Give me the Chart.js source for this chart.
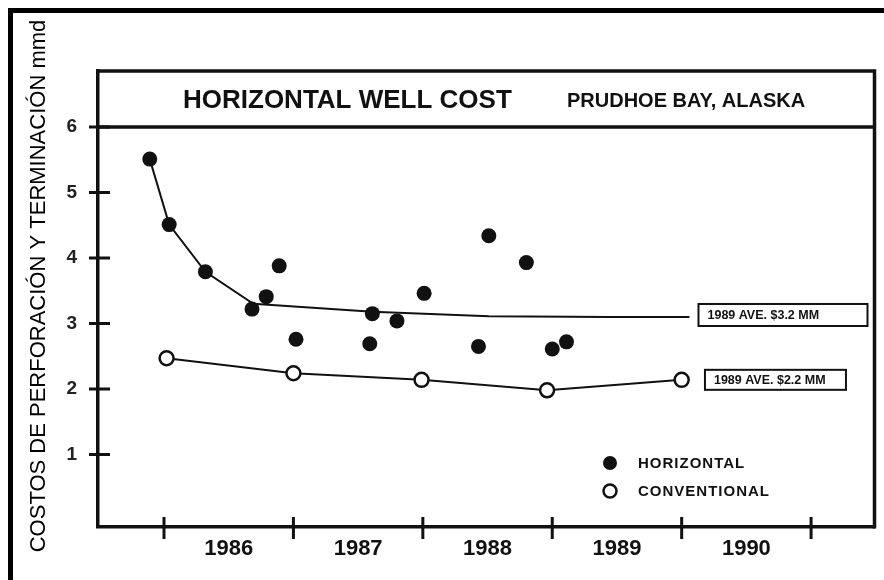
<!DOCTYPE html>
<html>
<head>
<meta charset="utf-8">
<script src="https://cdn.jsdelivr.net/npm/chart.js@4.4.1/dist/chart.umd.min.js"></script>
<style>
  html, body { margin: 0; padding: 0; background: #fff; }
  #frame { position: absolute; left: 8px; top: 8px; width: 876px; height: 572px;
           border-left: 5px solid #000; border-top: 5px solid #000; box-sizing: border-box; }
  #wrap { position: absolute; left: 0; top: 0; width: 884px; height: 580px; }
</style>
</head>
<body>
<div id="frame"></div>
<div id="wrap"><canvas id="c" width="884" height="580"></canvas></div>
<script>
// Year labels sit in the middle of each year; tick marks sit on year boundaries.
const yearLabels = ['1986', '1987', '1988', '1989', '1990'];
const yearTicks = [1986, 1987, 1988, 1989, 1990, 1991];
const costTicks = [1, 2, 3, 4, 5, 6];

// Horizontal wells: individual well costs (MM$)
const horizontalYears = [1985.89, 1986.04, 1986.32, 1986.68, 1986.79, 1986.89, 1987.02, 1987.61,
                         1987.59, 1987.80, 1988.01, 1988.43, 1988.51, 1988.80, 1989.00, 1989.11];
const horizontalCosts = [5.51, 4.51, 3.79, 3.22, 3.41, 3.88, 2.76, 3.15,
                         2.69, 3.04, 3.46, 2.65, 4.34, 3.93, 2.61, 2.72];

// Horizontal wells: cost trend curve
const trendYears = [1985.89, 1986.04, 1986.32, 1986.69, 1987.61, 1988.51, 1989.44, 1990.06];
const trendCosts = [5.51, 4.51, 3.79, 3.30, 3.18, 3.11, 3.10, 3.10];

// Conventional wells: yearly cost
const conventionalYears = [1986.02, 1987.00, 1987.99, 1988.96, 1990.00];
const conventionalCosts = [2.47, 2.24, 2.14, 1.98, 2.14];

const chartTitle = 'HORIZONTAL WELL COST';
const chartSubtitle = 'PRUDHOE BAY, ALASKA';
const yAxisTitle = 'COSTOS DE PERFORACIÓN Y TERMINACIÓN mmd';
const averageNotes = [
  { text: '1989 AVE. $3.2 MM', year: 1990.13, cost: 3.13, w: 169, h: 22 },
  { text: '1989 AVE. $2.2 MM', year: 1990.18, cost: 2.14, w: 141, h: 20 }
];

const toXY = (xs, ys) => xs.map((x, i) => ({ x, y: ys[i] }));
const INK = '#111';

const decorations = {
  id: 'decorations',
  afterDraw(chart) {
    const { ctx, chartArea: a, scales: { x, y } } = chart;
    ctx.save();
    ctx.strokeStyle = INK;
    ctx.lineCap = 'butt';

    // top and right sides of the frame, plus the title band rule at 6
    ctx.lineWidth = 3.5;
    ctx.beginPath();
    ctx.moveTo(a.left - 1.5, a.top);
    ctx.lineTo(a.right, a.top);
    ctx.lineTo(a.right, a.bottom + 1.5);
    const y6 = y.getPixelForValue(6);
    ctx.moveTo(a.left, y6);
    ctx.lineTo(a.right, y6);
    ctx.stroke();

    // tick marks crossing the axes
    ctx.lineWidth = 3;
    ctx.beginPath();
    costTicks.forEach(v => {
      const py = y.getPixelForValue(v);
      ctx.moveTo(a.left - 9, py);
      ctx.lineTo(a.left + 12, py);
    });
    yearTicks.forEach(v => {
      const px = x.getPixelForValue(v);
      ctx.moveTo(px, a.bottom - 10);
      ctx.lineTo(px, a.bottom + 12);
    });
    ctx.stroke();

    // title band text
    ctx.fillStyle = INK;
    ctx.textBaseline = 'middle';
    ctx.textAlign = 'left';
    const midBand = (a.top + y6) / 2 + 2;
    ctx.font = 'bold 26px "Liberation Sans", Arial, sans-serif';
    ctx.fillText(chartTitle, a.left + 85, midBand);
    ctx.font = 'bold 20px "Liberation Sans", Arial, sans-serif';
    ctx.fillText(chartSubtitle, a.left + 469, midBand);

    // boxed average notes
    ctx.font = 'bold 12.5px "Liberation Sans", Arial, sans-serif';
    ctx.lineWidth = 2;
    averageNotes.forEach(n => {
      const bx = x.getPixelForValue(n.year);
      const by = y.getPixelForValue(n.cost);
      ctx.strokeRect(bx, by - n.h / 2, n.w, n.h);
      ctx.fillText(n.text, bx + 9, by + 1);
    });

    // legend
    const lx = a.left + 512;
    const ly1 = a.top + 392;
    const ly2 = a.top + 420;
    ctx.beginPath();
    ctx.arc(lx, ly1, 7, 0, Math.PI * 2);
    ctx.fill();
    ctx.beginPath();
    ctx.arc(lx, ly2, 6.5, 0, Math.PI * 2);
    ctx.fillStyle = '#fff';
    ctx.fill();
    ctx.lineWidth = 2.5;
    ctx.stroke();
    ctx.fillStyle = INK;
    ctx.font = 'bold 15px "Liberation Sans", Arial, sans-serif';
    if ('letterSpacing' in ctx) ctx.letterSpacing = '1px';
    ctx.fillText(chart.data.datasets[0].label, lx + 28, ly1 + 1);
    ctx.fillText(chart.data.datasets[2].label, lx + 28, ly2 + 1);
    if ('letterSpacing' in ctx) ctx.letterSpacing = '0px';

    // rotated axis title
    ctx.translate(39, 286);
    ctx.rotate(-Math.PI / 2);
    ctx.textAlign = 'center';
    ctx.fillStyle = '#000';
    ctx.font = '22px "Liberation Sans", Arial, sans-serif';
    ctx.fillText(yAxisTitle, 0, 0);
    ctx.restore();
  }
};

new Chart(document.getElementById('c'), {
  data: {
    datasets: [
      {
        type: 'scatter',
        label: 'HORIZONTAL',
        data: toXY(horizontalYears, horizontalCosts),
        pointRadius: 7.5,
        pointBackgroundColor: INK,
        pointBorderColor: INK,
        pointBorderWidth: 0,
        showLine: false
      },
      {
        type: 'line',
        label: 'trend',
        data: toXY(trendYears, trendCosts),
        borderColor: INK,
        borderWidth: 2,
        pointRadius: 0,
        tension: 0,
        fill: false
      },
      {
        type: 'line',
        label: 'CONVENTIONAL',
        data: toXY(conventionalYears, conventionalCosts),
        borderColor: INK,
        borderWidth: 2,
        pointRadius: 7,
        pointBackgroundColor: '#fff',
        pointBorderColor: INK,
        pointBorderWidth: 2.5,
        tension: 0,
        fill: false
      }
    ]
  },
  options: {
    responsive: false,
    animation: false,
    devicePixelRatio: 1,
    layout: { padding: { left: 0, top: 71, right: 8, bottom: 0 } },
    plugins: { legend: { display: false }, tooltip: { enabled: false }, title: { display: false } },
    scales: {
      x: {
        type: 'linear',
        position: 'bottom',
        min: 1985.49,
        max: 1991.49,
        afterBuildTicks: s => { s.ticks = yearLabels.map(l => ({ value: Number(l) + 0.5 })); },
        afterFit: s => { s.height = 53; },
        ticks: {
          callback: (v, i) => yearLabels[i],
          color: INK,
          padding: 9,
          maxRotation: 0,
          autoSkip: false,
          font: { family: '"Liberation Sans", Arial, sans-serif', size: 22, weight: 'bold' }
        },
        grid: { display: false, drawTicks: false },
        border: { display: true, color: INK, width: 3.5 }
      },
      y: {
        type: 'linear',
        position: 'left',
        min: -0.107,
        max: 6.855,
        afterBuildTicks: s => { s.ticks = costTicks.map(v => ({ value: v })); },
        afterFit: s => { s.width = 98; },
        ticks: {
          color: '#222',
          padding: 21,
          font: { family: '"Liberation Sans", Arial, sans-serif', size: 19, weight: 'bold' }
        },
        grid: { display: false, drawTicks: false },
        border: { display: true, color: INK, width: 3.5 }
      }
    }
  },
  plugins: [decorations]
});
</script>
</body>
</html>
